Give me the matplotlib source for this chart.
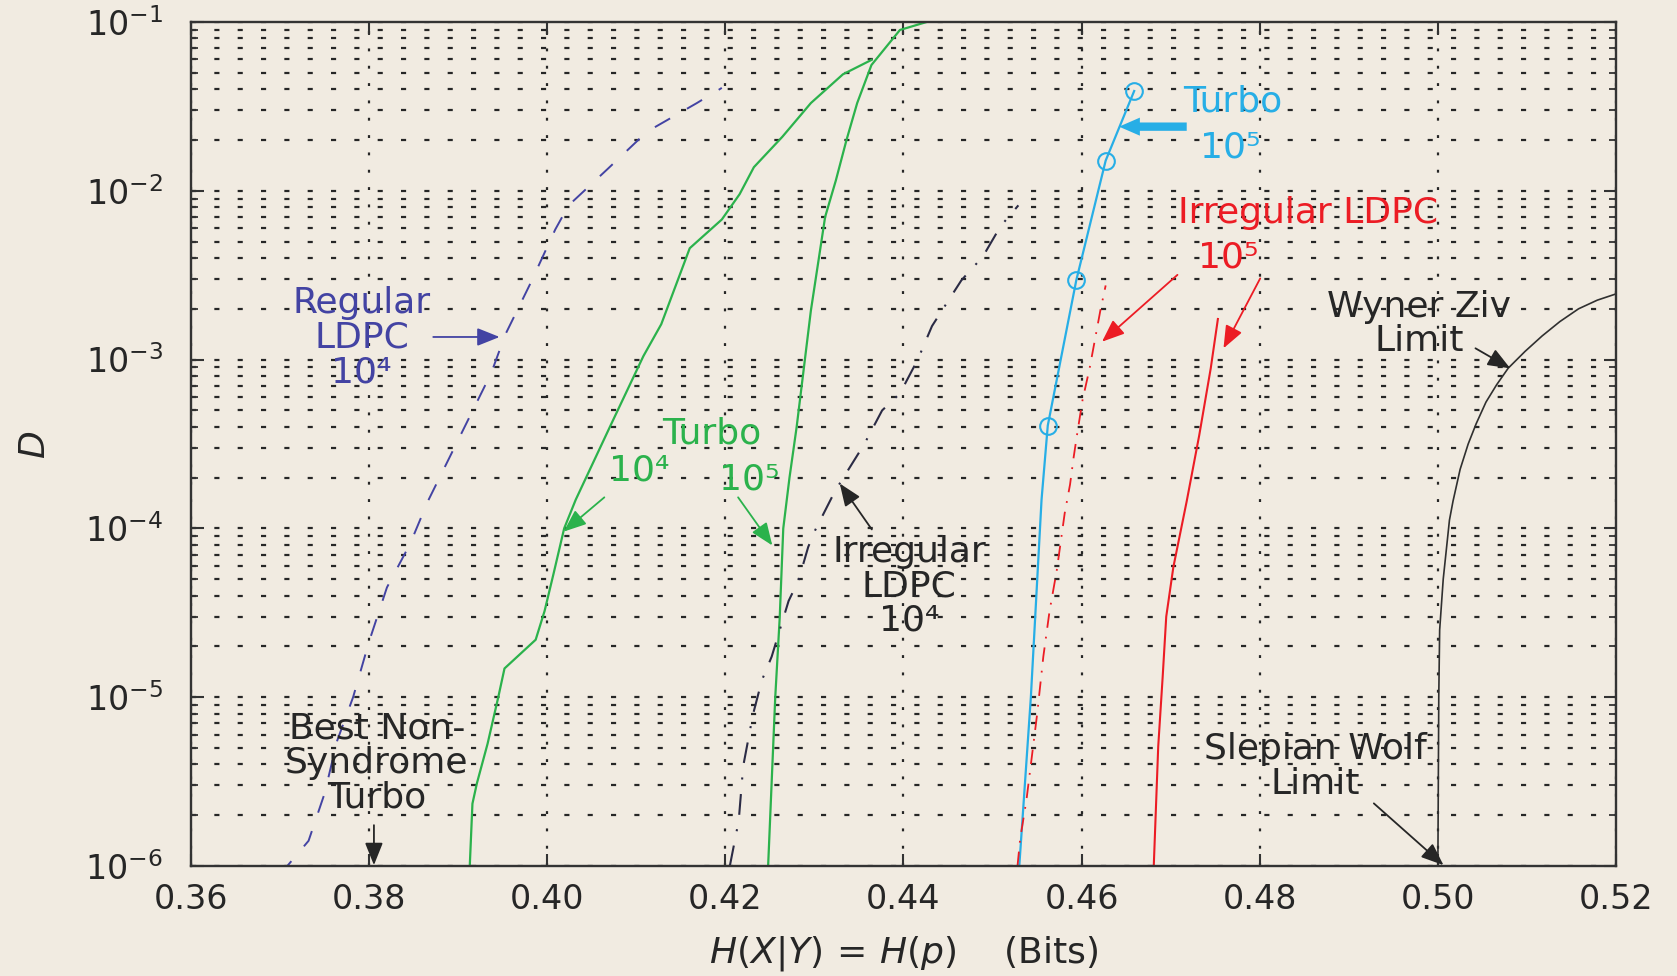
import numpy as np
import matplotlib
matplotlib.use("Agg")
import matplotlib.pyplot as plt

# ---------------- data ----------------
reg_ldpc_x = [0.3700, 0.3732, 0.3750, 0.3764, 0.3782, 0.3800, 0.3820, 0.3846, 0.3866,
              0.3937, 0.3953, 0.3981, 0.4009, 0.4024, 0.4068, 0.4112, 0.4168, 0.4196]
reg_ldpc_d = [8.9e-7, 1.41e-6, 2.69e-6, 5.5e-6, 1.0e-5, 2.14e-5, 4.47e-5, 8.1e-5, 1.45e-4,
              8.3e-4, 1.41e-3, 2.82e-3, 5.9e-3, 8.2e-3, 1.35e-2, 2.24e-2, 3.31e-2, 4.07e-2]

turbo4_x = [0.3913, 0.3916, 0.3921, 0.3933, 0.3945, 0.3952, 0.3987, 0.3997, 0.4007, 0.4019,
            0.4032, 0.4072, 0.4108, 0.4128, 0.4160, 0.4196, 0.4216, 0.4232, 0.4264, 0.4296,
            0.4332, 0.4364]
turbo4_d = [1.0e-6, 2.34e-6, 3.09e-6, 5.3e-6, 1.0e-5, 1.48e-5, 2.19e-5, 3.24e-5, 5.37e-5, 1.0e-4,
            1.48e-4, 4.17e-4, 1.05e-3, 1.62e-3, 4.57e-3, 6.76e-3, 9.55e-3, 1.38e-2, 2.09e-2, 3.31e-2,
            4.9e-2, 5.96e-2]

turbo5_x = [0.4248, 0.4256, 0.4261, 0.4265, 0.4272, 0.4280, 0.4296, 0.4312, 0.4324, 0.4336,
            0.4348, 0.4364, 0.4396, 0.4426]
turbo5_d = [1.0e-6, 1.0e-5, 2.95e-5, 1.0e-4, 2.0e-4, 3.98e-4, 1.95e-3, 7.0e-3, 1.15e-2, 2.0e-2,
            3.31e-2, 5.56e-2, 8.97e-2, 1.0e-1]

irr4_x = [0.4205, 0.4215, 0.4220, 0.4231, 0.4241, 0.4252, 0.4271, 0.4282, 0.4293, 0.4301,
          0.4323, 0.4356, 0.4376, 0.4396, 0.4416, 0.4432, 0.4465, 0.4489, 0.4509, 0.4529]
irr4_d = [1.0e-6, 1.86e-6, 3.9e-6, 7.9e-6, 1.26e-5, 1.74e-5, 3.72e-5, 4.9e-5, 7.76e-5, 9.8e-5,
          1.66e-4, 3.16e-4, 5.0e-4, 6.3e-4, 1.0e-3, 1.58e-3, 2.95e-3, 4.07e-3, 6.17e-3, 8.2e-3]

turbo5s_x = [0.4530, 0.4543, 0.4555, 0.4562, 0.4594, 0.4627, 0.4659]
turbo5s_d = [1.0e-6, 1.0e-5, 1.48e-4, 4.07e-4, 2.95e-3, 1.51e-2, 3.9e-2]
turbo5s_marks = [3, 4, 5, 6]

irr5a_x = [0.4528, 0.4531, 0.4538, 0.4550, 0.4557, 0.4564, 0.4572, 0.4581, 0.4587, 0.4591,
           0.4595, 0.4601, 0.4609, 0.4621, 0.4627]
irr5a_d = [1.0e-6, 1.45e-6, 2.45e-6, 7.9e-6, 1.74e-5, 3.24e-5, 5.6e-5, 1.23e-4, 1.82e-4, 2.63e-4,
           3.63e-4, 5.75e-4, 8.9e-4, 1.95e-3, 2.75e-3]

irr5b_x = [0.4681, 0.4686, 0.4691, 0.4695, 0.4703, 0.4718, 0.4732, 0.4745, 0.4753]
irr5b_d = [1.0e-6, 5.1e-6, 1.32e-5, 3.0e-5, 5.9e-5, 1.45e-4, 3.55e-4, 8.9e-4, 1.74e-3]

wz_x = [0.5000, 0.5001, 0.5002, 0.5006, 0.5013, 0.5017, 0.5025, 0.5034, 0.5043, 0.5054,
        0.5066, 0.5079, 0.5098, 0.5117, 0.5137, 0.5158, 0.5179, 0.5200]
wz_d = [1.0e-6, 1.0e-5, 2.5e-5, 5.0e-5, 1.12e-4, 1.45e-4, 2.24e-4, 3.16e-4, 4.17e-4, 5.6e-4,
        7.1e-4, 8.9e-4, 1.12e-3, 1.38e-3, 1.68e-3, 2.0e-3, 2.25e-3, 2.45e-3]

x_ticks = [0.36, 0.38, 0.40, 0.42, 0.44, 0.46, 0.48, 0.50, 0.52]

# ---------------- style ----------------
BG = '#f1ebe1'
NAVY = '#4343a3'
GREEN = '#2bb24c'
DARK = '#2b2b45'
CYAN = '#27aee6'
RED = '#ec1c24'
INK = '#262626'

plt.rcParams['font.family'] = ['DejaVu Sans']
plt.rcParams['mathtext.fontset'] = 'dejavusans'

fig = plt.figure(figsize=(16.77, 9.76), dpi=100)
fig.patch.set_facecolor(BG)
ax = fig.add_axes([191 / 1677, 1 - 866 / 976, 1425 / 1677, 844 / 976])
ax.set_facecolor(BG)

ax.set_yscale('log')
ax.set_xlim(0.36, 0.52)
ax.set_ylim(1e-6, 1e-1)
ax.set_xticks(x_ticks)
ax.set_xticklabels([f'{v:.2f}' for v in x_ticks])

# grid: dotted verticals at x ticks, dashed horizontals at every y tick
ax.grid(True, which='major', axis='x', color=INK, lw=1.6, linestyle=(0, (1.3, 6.5)))
ax.grid(True, which='both', axis='y', color=INK, lw=1.6, linestyle=(0, (2.3, 8.2)))
ax.set_axisbelow(True)

for s in ax.spines.values():
    s.set_color('#333333')
    s.set_linewidth(1.7)

ax.tick_params(which='both', direction='in', top=True, right=True, color='#333333',
               labelcolor=INK, labelsize=24)
ax.tick_params(which='major', length=9, width=1.5)
ax.tick_params(which='minor', length=5, width=1.3)
ax.tick_params(axis='y', pad=20)
ax.tick_params(axis='x', pad=12)

# ---------------- curves ----------------
ax.plot(reg_ldpc_x, reg_ldpc_d, color=NAVY, lw=1.4, linestyle=(0, (9, 10)))
ax.plot(turbo4_x, turbo4_d, color=GREEN, lw=1.6)
ax.plot(turbo5_x, turbo5_d, color=GREEN, lw=1.6)
ax.plot(irr4_x, irr4_d, color=DARK, lw=1.5, linestyle=(0, (10, 7, 1, 7)))
ax.plot(turbo5s_x, turbo5s_d, color=CYAN, lw=1.6, marker='o', markevery=turbo5s_marks,
        markersize=12, markerfacecolor='none', markeredgecolor=CYAN, markeredgewidth=1.5)
ax.plot(irr5a_x, irr5a_d, color=RED, lw=1.3, linestyle=(0, (8, 5, 1, 5)))
ax.plot(irr5b_x, irr5b_d, color=RED, lw=1.5)
ax.plot(wz_x, wz_d, color='#303030', lw=1.2)

# ---------------- annotations ----------------
FS = 26


def label(x, y, s, c):
    ax.text(x, y, s, color=c, fontsize=FS, ha='center', va='center',
            multialignment='center', linespacing=1.02)


def arrow(tail, tip, c, lw=1.3):
    ax.annotate('', xy=tip, xytext=tail,
                arrowprops=dict(arrowstyle='-|>,head_length=0.55,head_width=0.22',
                                mutation_scale=25, color=c, lw=lw,
                                shrinkA=0, shrinkB=0))


label(0.37915, 10 ** -2.87, 'Regular\nLDPC\n10\u2074', NAVY)
arrow((0.3872, 10 ** -2.866), (0.39465, 10 ** -2.866), NAVY)

label(0.41843, 10 ** -3.437, 'Turbo', GREEN)
label(0.41038, 10 ** -3.659, '10\u2074', GREEN)
label(0.42263, 10 ** -3.709, '10\u2075', GREEN)
arrow((0.40641, 10 ** -3.816), (0.40185, 10 ** -4.019), GREEN)
arrow((0.42143, 10 ** -3.816), (0.42527, 10 ** -4.101), GREEN)

label(0.44065, 10 ** -4.343, 'Irregular\nLDPC\n10\u2074', INK)
arrow((0.43644, 10 ** -4.006), (0.43284, 10 ** -3.734), INK)

label(0.47693, 10 ** -1.472, 'Turbo', CYAN)
label(0.47669, 10 ** -1.745, '10\u2075', CYAN)
ax.annotate('', xy=(0.4642, 10 ** -1.62), xytext=(0.4718, 10 ** -1.62),
            arrowprops=dict(arrowstyle='simple,head_length=0.75,head_width=0.65,tail_width=0.3',
                            mutation_scale=20, color=CYAN, lw=0, shrinkA=0, shrinkB=0))

label(0.48541, 10 ** -2.133, 'Irregular LDPC', RED)
label(0.47644, 10 ** -2.397, '10\u2075', RED)
arrow((0.47076, 10 ** -2.498), (0.46229, 10 ** -2.894), RED)
arrow((0.48005, 10 ** -2.519), (0.47593, 10 ** -2.933), RED)

label(0.49792, 10 ** -2.789, 'Wyner Ziv\nLimit', INK)
arrow((0.50422, 10 ** -2.933), (0.50813, 10 ** -3.052), INK)

label(0.4862, 10 ** -5.41, 'Slepian Wolf\nLimit', INK)
arrow((0.49281, 10 ** -5.629), (0.50063, 10 ** -5.995), INK)

label(0.38087, 10 ** -5.392, 'Best Non-\nSyndrome\nTurbo', INK)
arrow((0.38054, 10 ** -5.758), (0.38054, 10 ** -5.995), INK)

# ---------------- axis labels ----------------
ax.set_xlabel(r'$H(X|Y)\,=\,H(p)$    (Bits)', fontsize=FS, color=INK)
ax.xaxis.set_label_coords(0.5, -0.08)
ax.set_ylabel('D', fontsize=FS, style='italic', color=INK)
ax.yaxis.set_label_coords(-0.098, 0.5)

fig.savefig('out.png', dpi=100, facecolor=BG)
